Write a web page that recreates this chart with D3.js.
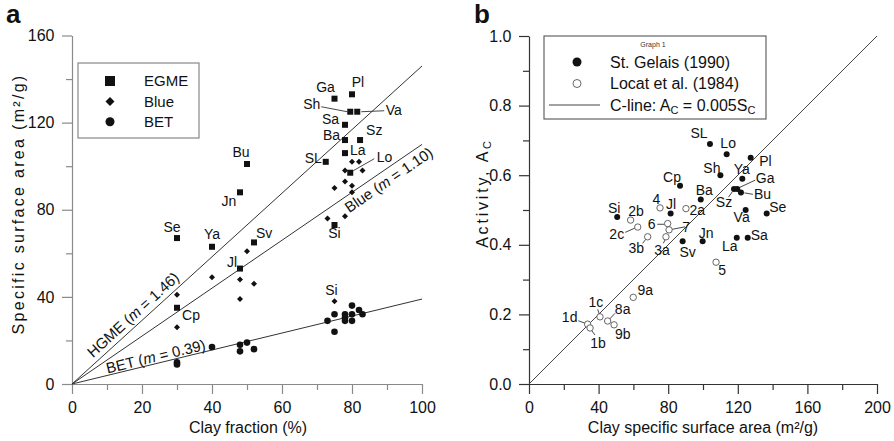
<!DOCTYPE html>
<html lang="en">
<head>
<meta charset="UTF-8">
<title>Specific surface area and activity</title>
<style>
    body { margin: 0; background: #fff; }
    svg { font-family: "Liberation Sans", Arial, Helvetica, sans-serif; }
</style>
</head>
<body>
<div id="chart"></div>
<script src="https://d3js.org/d3.v7.min.js"></script>
<script>
    // ---------- panel a: clay fraction (%) vs specific surface area (m2/g) ----------
    const egme = [
        ['Se', 30, 67], ['Ya', 40, 63], ['Sv', 52, 65], ['Jl', 48, 53], ['Cp', 30, 35],
        ['Jn', 48, 88], ['Bu', 50, 101], ['Ga', 75, 131], ['Pl', 80, 133], ['Sh', 79.5, 125],
        ['Va', 81.5, 125], ['Sa', 78, 119], ['Ba', 78, 112], ['Sz', 82.3, 112], ['La', 78, 106],
        ['SL', 72.5, 102], ['Lo', 79.5, 97], ['Si', 75, 73]
    ];
    const blue = [
        ['', 30, 41], ['', 30, 26], ['', 40, 49], ['', 50, 61], ['', 48, 48], ['', 48, 39],
        ['', 52, 46], ['', 80, 102], ['', 82, 102], ['', 78, 98], ['', 83, 98], ['', 78, 93],
        ['', 80, 91], ['', 75, 90], ['', 80, 88], ['', 73, 76], ['', 78, 77], ['Si', 75, 38]
    ];
    const bet = [
        ['', 30, 10], ['', 30, 9], ['', 40, 17], ['', 48, 18], ['', 48, 15], ['', 50, 19],
        ['', 52, 16], ['', 73, 29], ['', 75, 32], ['', 75, 24], ['', 78, 32], ['', 78, 30.5],
        ['', 78, 29], ['', 80, 36], ['', 80, 32], ['', 80, 29], ['', 82, 34], ['', 83, 32]
    ];
    const fitNames = ['HGME', 'Blue', 'BET'];
    const fitSlopes = [1.46, 1.10, 0.39];
    const legendA = [['EGME', 'square'], ['Blue', 'diamond'], ['BET', 'circle']];

    // ---------- panel b: clay SSA vs activity ----------
    const stGelais = [
        ['SL', 104, 0.69], ['Lo', 113.6, 0.66], ['Pl', 127.4, 0.65], ['Sh', 110, 0.60],
        ['Ya', 122.6, 0.59], ['Sz', 117.8, 0.56], ['Ga', 119.7, 0.56], ['Bu', 121.8, 0.55],
        ['Cp', 86.8, 0.57], ['Ba', 98.7, 0.53], ['Jl', 81.4, 0.49], ['Va', 124.5, 0.50],
        ['Se', 136.6, 0.49], ['Sv', 88.3, 0.41], ['Jn', 99.8, 0.41], ['La', 119.4, 0.42],
        ['Sa', 125.7, 0.42], ['Si', 50.7, 0.48]
    ];
    const locat = [
        ['2b', 58.4, 0.471], ['2c', 62.5, 0.451], ['4', 75.3, 0.506], ['2a', 90.2, 0.504],
        ['6', 79.7, 0.461], ['7', 80.5, 0.443], ['3b', 68.2, 0.423], ['3a', 78.7, 0.423],
        ['5', 107.5, 0.35], ['1c', 40.8, 0.193], ['1d', 33.7, 0.172], ['1b', 35.1, 0.161],
        ['8a', 45.2, 0.181], ['9b', 48.9, 0.170], ['9a', 59.9, 0.249]
    ];
    const cLineSlope = 0.005;

    // label placement: [dx, dy, anchor, leader [x1,y1,x2,y2] relative to the point]
    const egmeLab = {
        Se: [-5, -6.5, 'middle'], Ya: [0, -7.5, 'middle'], Sv: [2, -4, 'start'], Jl: [-8, -2, 'middle'],
        Cp: [14, 12, 'middle'], Jn: [-11, 14, 'middle'], Bu: [-6, -7, 'middle'], Ga: [-9, -7, 'middle'],
        Pl: [6, -7, 'middle'], Sh: [-30, -2.5, 'end', [-29, -5, -3, 0]], Va: [28.5, 3, 'start', [4, 0, 27, -1]],
        Sa: [-6, -0.5, 'end'], Ba: [-5, -0.5, 'end'], Sz: [6, -5, 'start'], La: [5, 2, 'start'],
        SL: [-4, 1.5, 'end'], Lo: [26.5, -10.5, 'start', [3, -2, 24, -14]], Si: [0, 13, 'middle']
    };
    const blueLab = { Si: [-3, -6, 'middle'] };
    const fitLab = { HGME: [19.4, -5], Blue: [88.8, 15.7], BET: [24.4, -1.8] };
    const sgLab = {
        SL: [-11, -5.5, 'middle'], Lo: [1.5, -6, 'middle'], Pl: [8.5, 8, 'start'], Sh: [-8.5, -2.5, 'middle'],
        Ya: [-0.5, -4.7, 'middle'], Ga: [18.5, -6, 'start', [2, -1.5, 18, -9]],
        Bu: [13, 6.5, 'start', [3.5, 0.3, 12, 1.7]], Sz: [-10, 18, 'middle', [-5.5, 8, -1.5, 2.5]],
        Cp: [-8, -4, 'middle'], Ba: [3.5, -4.5, 'middle'], Jl: [0.5, -4.5, 'middle'], Va: [-4, 12, 'middle'],
        Se: [2.5, -1, 'start'], Sv: [5, 15.5, 'middle'], Jn: [3.5, -3, 'middle'], La: [-7, 13, 'middle'],
        Sa: [3, 2, 'start'], Si: [-3, -4.3, 'middle']
    };
    const locatLab = {
        '2b': [5.5, -4.5, 'middle'], '2c': [-21, 12, 'middle', [-12.5, 5.3, -2.8, 1]],
        '4': [-3.5, -4, 'middle'], '2a': [3.5, 6.5, 'start'], '6': [-16, 5.5, 'middle', [-10.4, 0.7, -3, 0.7]],
        '7': [17, 2.5, 'middle', [3, -0.5, 16, -3]], '3b': [-11.5, 16.5, 'middle', [-5, 6.5, -1.8, 2.4]],
        '3a': [-4, 18, 'middle', [-2.6, 6.5, -0.8, 2.8]], '5': [6, 13, 'middle'],
        '1c': [-4, -9.5, 'middle', [-2.3, -7.5, -0.7, -2.8]], '1d': [-18, -2, 'middle', [-9.3, -3.4, -2.6, -0.9]],
        '1b': [8, 20, 'middle', [4.9, 7, 1.6, 2.6]], '8a': [15, -7, 'middle', [7.4, -7.7, 2, -2]],
        '9b': [8.7, 14, 'middle'], '9a': [12, -2.3, 'middle']
    };

    const svg = d3.select('#chart').append('svg')
        .attr('width', 894).attr('height', 441);

    function mark(g, shape, cx, cy, r) {
        if (shape === 'square') {
            return g.append('rect').attr('x', cx - r).attr('y', cy - r)
                .attr('width', 2 * r).attr('height', 2 * r);
        }
        if (shape === 'diamond') {
            return g.append('path')
                .attr('d', `M${cx},${cy - r}L${cx + r},${cy}L${cx},${cy + r}L${cx - r},${cy}Z`);
        }
        return g.append('circle').attr('cx', cx).attr('cy', cy).attr('r', r);
    }

    // x axis with long labelled ticks and short minor ones
    function bottomAxis(g, scale, major, minor, fmt, color) {
        g.attr('transform', `translate(0,${384})`)
            .call(d3.axisBottom(scale).tickValues(major.concat(minor))
                .tickSize(10).tickSizeOuter(0).tickPadding(8)
                .tickFormat(d => major.includes(d) ? fmt(d) : ''));
        styleAxis(g, major, color, 'y2', 6);
    }

    function leftAxis(g, scale, x0, major, minor, fmt, color) {
        g.attr('transform', `translate(${x0},0)`)
            .call(d3.axisLeft(scale).tickValues(major.concat(minor))
                .tickSize(10).tickSizeOuter(0).tickPadding(7.5)
                .tickFormat(d => major.includes(d) ? fmt(d) : ''));
        styleAxis(g, major, color, 'x2', -6);
    }

    function styleAxis(g, major, color, attr, len) {
        g.attr('font-family', null).attr('font-size', 16);
        g.select('.domain').attr('stroke', color).attr('stroke-width', 1.2);
        g.selectAll('.tick line').attr('stroke', color).attr('stroke-width', 1.2);
        g.selectAll('.tick').filter(d => !major.includes(d)).select('line').attr(attr, len);
        g.selectAll('.tick text').attr('fill', '#111');
    }

    function labels(g, data, x, y, layout) {
        data.forEach(([name, vx, vy]) => {
            const L = layout[name];
            if (!L) return;
            const px = x(vx), py = y(vy);
            if (L[3]) {
                g.append('line')
                    .attr('x1', px + L[3][0]).attr('y1', py + L[3][1])
                    .attr('x2', px + L[3][2]).attr('y2', py + L[3][3])
                    .attr('stroke', '#333').attr('stroke-width', 0.9);
            }
            g.append('text')
                .attr('x', px + L[0]).attr('y', py + L[1])
                .attr('text-anchor', L[2])
                .attr('font-size', 14).attr('fill', '#111')
                .text(name);
        });
    }

    // ================= panel a =================
    {
        const x = d3.scaleLinear().domain([0, 100]).range([72, 422]);
        const y = d3.scaleLinear().domain([0, 160]).range([384, 35.5]);
        const g = svg.append('g');
        const axisColor = '#8a8a8a';

        bottomAxis(g.append('g'), x, [0, 20, 40, 60, 80, 100], [10, 30, 50, 70, 90], d3.format('d'), axisColor);
        leftAxis(g.append('g'), y, 72, [0, 40, 80, 120, 160], [20, 60, 100, 140], d3.format('d'), axisColor);

        // fitted lines through the origin
        fitNames.forEach((name, i) => {
            const m = fitSlopes[i];
            g.append('line')
                .attr('x1', x(0)).attr('y1', y(0))
                .attr('x2', x(100)).attr('y2', y(100 * m))
                .attr('stroke', '#333').attr('stroke-width', 1);
            const ang = Math.atan2(y(100 * m) - y(0), x(100) - x(0)) * 180 / Math.PI;
            const at = fitLab[name];
            const t = g.append('text')
                .attr('transform', `translate(${x(at[0])},${y(at[0] * m)}) rotate(${ang})`)
                .attr('y', at[1])
                .attr('text-anchor', 'middle')
                .attr('font-size', 15).attr('fill', '#111');
            t.append('tspan').text(`${name} (`);
            t.append('tspan').attr('font-style', 'italic').text('m');
            t.append('tspan').text(` = ${m.toFixed(2)})`);
        });

        const pts = g.append('g').attr('fill', '#111');
        egme.forEach(d => mark(pts, 'square', x(d[1]), y(d[2]), 3));
        blue.forEach(d => mark(pts, 'diamond', x(d[1]), y(d[2]), 3));
        bet.forEach(d => mark(pts, 'circle', x(d[1]), y(d[2]), 3.3));

        labels(g, egme, x, y, egmeLab);
        labels(g, blue, x, y, blueLab);

        // legend
        const lg = g.append('g');
        lg.append('rect').attr('x', 78).attr('y', 63).attr('width', 121).attr('height', 75)
            .attr('fill', '#fff').attr('stroke', '#888').attr('stroke-width', 1.2);
        legendA.forEach(([name, shape], i) => {
            const cy = 81 + i * 20.4;
            mark(lg, shape, 110, cy, shape === 'square' ? 5 : 4.5).attr('fill', '#111');
            lg.append('text').attr('x', 144).attr('y', cy + 5.3)
                .attr('font-size', 15).attr('fill', '#111').text(name);
        });

        // titles
        g.append('text').attr('x', 248).attr('y', 433).attr('text-anchor', 'middle')
            .attr('font-size', 16).attr('fill', '#111').text('Clay fraction (%)');
        g.append('text').attr('transform', 'translate(24,204) rotate(-90)')
            .attr('text-anchor', 'middle').attr('font-size', 16).attr('letter-spacing', 2.3)
            .attr('fill', '#111').text('Specific surface area (m²/g)');
        g.append('text').attr('x', 6).attr('y', 23).attr('font-size', 26)
            .attr('font-weight', 'bold').attr('fill', '#111').text('a');
    }

    // ================= panel b =================
    {
        const x = d3.scaleLinear().domain([0, 200]).range([529, 877]);
        const y = d3.scaleLinear().domain([0, 1]).range([384, 36]);
        const g = svg.append('g');
        const axisColor = '#333';

        bottomAxis(g.append('g'), x, [0, 40, 80, 120, 160, 200], [20, 60, 100, 140, 180], d3.format('d'), axisColor);
        leftAxis(g.append('g'), y, 529, [0, 0.2, 0.4, 0.6, 0.8, 1.0], [0.1, 0.3, 0.5, 0.7, 0.9], d3.format('.1f'), axisColor);

        // C-line
        g.append('line')
            .attr('x1', x(0)).attr('y1', y(0))
            .attr('x2', x(200)).attr('y2', y(200 * cLineSlope))
            .attr('stroke', '#444').attr('stroke-width', 1);

        labels(g, stGelais, x, y, sgLab);
        labels(g, locat, x, y, locatLab);

        const pts = g.append('g');
        stGelais.forEach(d => mark(pts, 'circle', x(d[1]), y(d[2]), 3).attr('fill', '#111'));
        locat.forEach(d => mark(pts, 'circle', x(d[1]), y(d[2]), 3.2)
            .attr('fill', '#fff').attr('stroke', '#555').attr('stroke-width', 0.9));

        // legend
        const lg = g.append('g');
        lg.append('rect').attr('x', 544).attr('y', 36).attr('width', 222).attr('height', 83)
            .attr('fill', '#fff').attr('stroke', '#555').attr('stroke-width', 1.1);
        lg.append('text').attr('x', 653).attr('y', 47).attr('text-anchor', 'middle')
            .attr('font-size', 7).attr('fill', '#333').text('Graph 1');
        mark(lg, 'circle', 577, 62, 4.5).attr('fill', '#111');
        lg.append('text').attr('x', 610).attr('y', 67.5).attr('font-size', 16).attr('fill', '#111')
            .text('St. Gelais (1990)');
        mark(lg, 'circle', 577, 83.5, 4).attr('fill', '#fff').attr('stroke', '#555').attr('stroke-width', 0.9);
        lg.append('text').attr('x', 610).attr('y', 89).attr('font-size', 16).attr('fill', '#111')
            .text('Locat et al. (1984)');
        lg.append('line').attr('x1', 549).attr('y1', 105).attr('x2', 600).attr('y2', 105)
            .attr('stroke', '#444').attr('stroke-width', 1);
        const ct = lg.append('text').attr('x', 610).attr('y', 111).attr('font-size', 16).attr('fill', '#111');
        ct.append('tspan').text('C-line: A');
        ct.append('tspan').attr('font-size', 11).attr('dy', 3).text('C');
        ct.append('tspan').attr('dy', -3).text(' = 0.005S');
        ct.append('tspan').attr('font-size', 11).attr('dy', 3).text('C');

        // titles
        g.append('text').attr('x', 703).attr('y', 433).attr('text-anchor', 'middle')
            .attr('font-size', 16).attr('fill', '#111').text('Clay specific surface area (m²/g)');
        const yt = g.append('text').attr('transform', 'translate(488,193) rotate(-90)')
            .attr('text-anchor', 'middle').attr('font-size', 16).attr('letter-spacing', 2.8)
            .attr('fill', '#111');
        yt.append('tspan').text('Activity, A');
        yt.append('tspan').attr('font-size', 11).attr('dy', 3).text('C');
        g.append('text').attr('x', 474).attr('y', 23).attr('font-size', 26)
            .attr('font-weight', 'bold').attr('fill', '#111').text('b');
    }
</script>
</body>
</html>
